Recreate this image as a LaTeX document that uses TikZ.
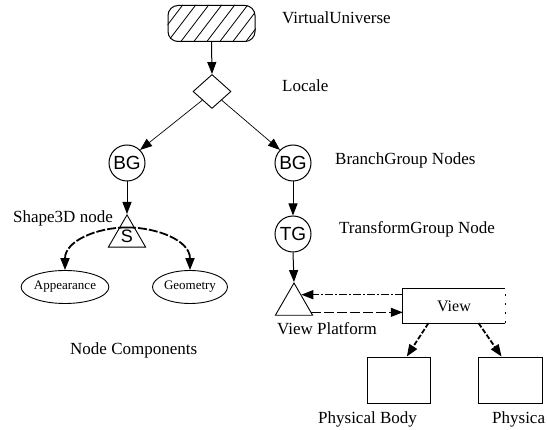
\documentclass[tikz,border=0pt]{standalone}
\usepackage{fontspec}
\setmainfont{Liberation Serif}
\newfontfamily\arialfont{Liberation Sans}
\usetikzlibrary{shapes.geometric,arrows.meta,calc}
\tikzset{
 lbl/.style={font=\fontsize{17}{20}\selectfont, inner sep=0pt, anchor=base west},
 circ/.style={circle, draw, line width=1pt, minimum size=36pt, inner sep=0pt, font=\arialfont\fontsize{19}{20}\selectfont},
 tri/.style={regular polygon, regular polygon sides=3, draw, line width=0.9pt, minimum size=43pt, inner sep=0pt, font=\arialfont\fontsize{18}{20}\selectfont},
 ell/.style={ellipse, draw, line width=0.9pt, minimum width=75pt, minimum height=33pt, inner sep=0pt, font=\fontsize{13}{14}\selectfont},
 box/.style={rectangle, draw, line width=0.9pt, inner sep=0pt},
 arr/.style={-{Triangle[length=12pt,width=9pt]}, line width=1pt},
 curv/.style={arr, line width=1.8pt, dash pattern=on 9pt off 2pt},
 darr/.style={arr, line width=1.8pt, dash pattern=on 5pt off 2pt},
}
\begin{document}
\begin{tikzpicture}[x=1pt,y=-1pt]
\useasboundingbox (0,0) rectangle (547,430);
% VirtualUniverse
\node[draw, line width=1pt, rounded corners=10pt, minimum width=87pt, minimum height=36pt, inner sep=0pt] (vu) at (211.5,23.5) {};
\begin{scope}
\clip[rounded corners=10pt] (vu.south west) rectangle (vu.north east);
\foreach \i in {0,...,9} \draw[line width=0.8pt] (140+\i*13,44) -- (172+\i*13,2);
\end{scope}
\node[diamond, draw, line width=0.9pt, minimum width=38pt, minimum height=34pt, inner sep=0pt] (loc) at (212,91.5) {};
\node[circ] (bg1) at (127,163) {BG};
\node[circ] (bg2) at (293,163) {BG};
\node[circ] (tg) at (293,234) {TG};
\node[tri] (s) at (127,236.4) {S};
\node[tri] (vp) at (294,304.5) {};
\node[ell] (app) at (65,287) {Appearance};
\node[ell] (geo) at (190,287) {Geometry};
\node[rectangle, inner sep=0pt, minimum width=102pt, minimum height=34pt, font=\fontsize{16}{18}\selectfont] (view) at (454,306) {View};
\draw[line width=0.9pt] (view.north east) -- (view.north west) -- (view.south west) -- (view.south east);
\draw[line width=0.9pt, dash pattern=on 2pt off 7pt] (view.south east) -- (view.north east);
\node[box, minimum width=63pt, minimum height=46pt] (pb) at (398.5,380) {};
\node[box, minimum width=64pt, minimum height=46pt] (pe) at (510,380) {};
% labels
\node[lbl] (vul) at (282,24) {VirtualUniverse};
\node[lbl] (locl) at (282,92) {Locale};
\node[lbl] (bgl) at (335,165) {BranchGroup Nodes};
\node[lbl] (tgl) at (339,234) {TransformGroup Node};
\node[lbl, anchor=base east] (shl) at (113,223) {Shape3D node};
\node[lbl] (ncl) at (70,355) {Node Components};
\node[lbl] (vplab) at (277,335) {View Platform};
\node[lbl] (pbl) at (318,424) {Physical Body};
\node[lbl] (pel) at (492,424) {Physica};
% connectors
\draw[arr] (vu.south) -- (loc.north);
\draw[arr, line width=0.7pt] (loc.south west) -- (bg1.north east);
\draw[arr, line width=0.7pt] (loc.south east) -- (bg2.north west);
\draw[arr] (bg1.south) -- (s.corner 1);
\draw[arr] (bg2.south) -- (tg.north);
\draw[arr] (tg.south) -- (vp.corner 1);
\coordinate (sc) at ($(s.corner 1)!0.6!(s.center)$);
\draw[curv] (sc) to[out=180,in=90] (app.north);
\draw[curv] (sc) to[out=0,in=90] (geo.north);
\coordinate (vpa) at ($(vp.corner 1)!0.375!(vp.corner 3)$);
\coordinate (vpb) at ($(vp.corner 1)!0.9!(vp.corner 3)$);
\draw[arr, line width=1.4pt, dash pattern=on 8pt off 2pt on 2pt off 2pt] (view.west |- vpa) -- (vpa);
\draw[arr, line width=1.2pt, dash pattern=on 10pt off 3pt] (vpb) -- (view.west |- vpb);
\draw[darr] ($(view.south west)!0.25!(view.south east)$) -- ($(pb.north west)!0.63!(pb.north east)$);
\draw[darr] ($(view.south west)!0.74!(view.south east)$) -- ($(pe.north west)!0.37!(pe.north east)$);
\end{tikzpicture}
\end{document}
